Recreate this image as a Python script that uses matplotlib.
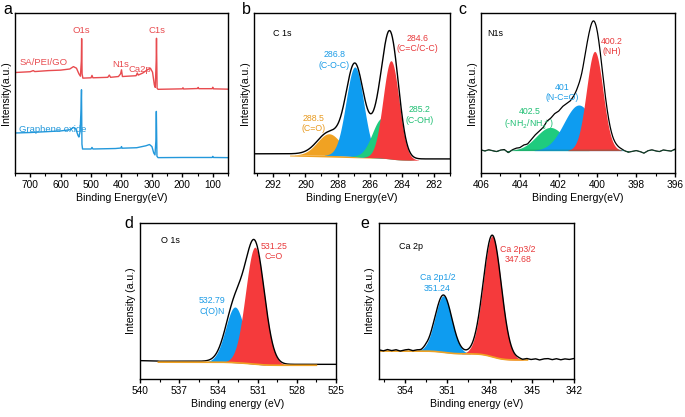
import numpy as np
import matplotlib.pyplot as plt
from matplotlib.ticker import MultipleLocator

plt.rcParams['font.family'] = ['Liberation Sans', 'DejaVu Sans']
plt.rcParams['axes.linewidth'] = 1.0

RED = "#F53A3C"
BLUE = "#0E9CF0"
GREEN = "#1FCB7E"
ORANGE = "#F0A223"
T_RED = "#E8393B"
T_BLUE = "#1B9BE6"
T_GREEN = "#1FBF73"
T_ORANGE = "#E89A1F"

# ---- (a) survey spectra ----
sa_e = [750, 700, 690, 685, 640, 600, 570, 558, 548, 540, 535, 532, 531, 529.5, 527, 500, 497, 494,
        445, 440, 436, 410, 403, 400, 397, 380, 352, 348, 345, 330, 315, 305, 298, 292, 289,
        286, 285, 283, 280, 200, 198, 196, 150, 148, 146, 102, 100, 98, 50]
sa_i = [62.8, 63.3, 64.0, 63.4, 64.0, 64.3, 65.0, 66.5, 65.5, 62.0, 60.5, 70, 84.0, 62, 59.3, 59.5, 61, 59.5,
        59.8, 61.2, 59.8, 60.3, 62, 64.5, 60.3, 60.5, 60.8, 62.5, 61.2, 62.5, 64.5, 65.5, 63, 55, 53.5,
        70, 84.2, 53, 52.3, 52.6, 53.3, 52.5, 52.8, 53.5, 52.7, 52.7, 53.6, 52.6, 52.4]
go_e = [750, 700, 650, 600, 570, 558, 550, 543, 540, 536, 533, 531.5, 530, 528, 500, 497, 494,
        420, 402, 400, 398, 350, 320, 308, 300, 294, 290, 287, 285.5, 283.5, 280, 200, 150,
        102, 100, 98, 50]
go_i = [25.0, 25.3, 25.8, 26.3, 27.0, 28.5, 27.5, 23.5, 22.5, 26, 40, 52.0, 18, 15.0, 15.0, 16.0, 15.0,
        15.3, 15.6, 16.5, 15.5, 15.8, 17.0, 17.8, 16.5, 12.5, 11.3, 20, 38.5, 10.5, 9.6, 9.7, 9.7,
        9.7, 10.4, 9.7, 9.6]

# ---- (b) C 1s fitted components ----
c1s_center = [288.53, 286.92, 285.22, 284.67]
c1s_height = [13.5, 56, 25, 61.5]
c1s_fwhm = [1.7, 1.3, 1.45, 1.17]
c1s_colors = [ORANGE, BLUE, GREEN, RED]
c1s_bg = [11.2, 8.0]          # background at 293.2 and 281 eV

# ---- (c) N 1s fitted components ----
n1s_center = [402.43, 400.96, 400.14]
n1s_height = [14.5, 28.5, 62]
n1s_fwhm = [1.7, 1.8, 1.0]
n1s_colors = [GREEN, BLUE, RED]
n1s_base = 14.0
n1s_noise_e = np.arange(406, 395.9, -0.2)
n1s_noise = [-0.4, -1.0, -0.3, -0.9, -1.4, -0.5, -0.2, -2.2, -0.7, 0.0, -0.3, 0.3, -0.6, 0.2, 0.5, -0.1, -0.7, 0.6,
             0.2, 0.9, 0.4, 1.2, 0.8, 0.1, 0.6, 1.0, 0.4, 1.1, 0.8, 1.4, 1.6, 1.1, 0.7, 0.5, 0.2, 0.1, -0.3,
             -1.2, -1.9, -1.3, -0.8, -1.4, -2.4, -0.9, -0.3, -1.0, -1.4, -0.4, -0.8, -1.1, 0.1]

# ---- (d) O 1s fitted components ----
o1s_center = [532.73, 531.2]
o1s_height = [35.7, 75]
o1s_fwhm = [1.7, 1.7]
o1s_colors = [BLUE, RED]
o1s_bg = [10.8, 8.8]

# ---- (e) Ca 2p fitted components ----
ca_center = [351.27, 347.8]
ca_height = [36.3, 77.5]
ca_fwhm = [1.4, 1.5]
ca_colors = [BLUE, RED]
ca_bg = [17.9, 12.2]
ca_noise_e = np.arange(355.85, 341.9, -0.3)
ca_noise = [0.3, -0.4, 0.5, -0.2, 0.4, -0.5, 0.2, 0.6, -0.3, 0.1, -0.4, 0.3, 0.0, 0.2, 0.0, 0.0, 0.0, 0.0,
            0.0, 0.0, 0.0, 0.0, 0.0, 0.0, 0.0, 0.0, 0.0, 0.0, 0.0, 0.0, 0.0, 0.0, 0.0, 0.2, -0.3, 0.4,
            -0.2, 0.3, -0.5, 0.2, 0.4, -0.3, 0.3, -0.4, 0.2, -0.2, 0.4]


def gauss(x, c, h, w):
    return h * np.exp(-4 * np.log(2) * (x - c) ** 2 / w ** 2)


def shirley(x, comps, hi, lo):
    # x runs from high to low binding energy
    total = np.sum(comps, axis=0)
    cum = np.cumsum(total[::-1])[::-1]
    return lo + (hi - lo) * cum / cum[0]


def style(ax, xlim, major, minor, xlabel, ylabel):
    ax.set_xlim(*xlim)
    ax.set_ylim(0, 100)
    ax.xaxis.set_major_locator(MultipleLocator(major))
    ax.xaxis.set_minor_locator(MultipleLocator(minor))
    ax.set_yticks([])
    ax.tick_params(axis='x', which='major', direction='out', length=3, width=1, labelsize=7.3, pad=2)
    ax.tick_params(axis='x', which='minor', direction='out', length=1.8, width=0.8)
    ax.set_xlabel(xlabel, fontsize=7.6, labelpad=2)
    ax.set_ylabel(ylabel, fontsize=7.6, labelpad=3)


fig = plt.figure(figsize=(6.85, 4.17), dpi=100)
W, H = 685.0, 417.0


def axes_px(x0, y0, x1, y1):
    return fig.add_axes([x0 / W, 1 - y1 / H, (x1 - x0) / W, (y1 - y0) / H])


# (a)
ax = axes_px(15, 13, 228, 173)
ax.plot(sa_e, sa_i, color="#E84B4F", lw=1)
ax.plot(go_e, go_i, color="#2398DB", lw=1)
style(ax, (750, 50), 100, 50, "Binding Energy(eV)", "Intensity(a.u.)")
ax.text(0.02, 0.69, "SA/PEI/GO", color="#E84B4F", fontsize=6.8, transform=ax.transAxes, va='center')
ax.text(0.02, 0.275, "Graphene oxide", color="#2398DB", fontsize=6.8, transform=ax.transAxes, va='center')
ax.text(531, 89, "O1s", color="#E84B4F", fontsize=6.8, ha='center', va='center')
ax.text(284, 89, "C1s", color="#E84B4F", fontsize=6.8, ha='center', va='center')
ax.text(402, 68, "N1s", color="#E84B4F", fontsize=6.8, ha='center', va='center')
ax.text(338, 65, "Ca2p", color="#E84B4F", fontsize=6.8, ha='center', va='center')

# (b)
ax = axes_px(254, 13, 450, 173)
x = np.linspace(293.2, 281, 800)
comps = [gauss(x, c, h, w) for c, h, w in zip(c1s_center, c1s_height, c1s_fwhm)]
bg = shirley(x, comps, *c1s_bg)
chord = np.interp(x, [281, 293.2], c1s_bg[::-1])
band = (bg > chord) & (x < 291) & (x > 283.1)
ax.fill_between(x, chord, bg, where=band, color=ORANGE, lw=0)
for comp, col in zip(comps, c1s_colors):
    mask = comp > 0.15
    ax.fill_between(x, bg, bg + comp, where=mask, color=col, lw=0)
env = bg + np.sum(comps, axis=0)
ax.plot(x, env + 0.8, color='black', lw=1)
style(ax, (293.2, 281), 2, 1, "Binding Energy(eV)", "Intensity(a.u.)")
ax.text(0.095, 0.87, "C 1s", fontsize=6.5, transform=ax.transAxes, va='center')
ax.text(283.0, 81, "284.6\n(C=C/C-C)", color=T_RED, fontsize=6.3, ha='center', va='center', linespacing=1.2)
ax.text(288.2, 70.6, "286.8\n(C-O-C)", color=T_BLUE, fontsize=6.3, ha='center', va='center', linespacing=1.2)
ax.text(289.5, 31, "288.5\n(C=O)", color=T_ORANGE, fontsize=6.3, ha='center', va='center', linespacing=1.2)
ax.text(282.9, 36.2, "285.2\n(C-OH)", color=T_GREEN, fontsize=6.3, ha='center', va='center', linespacing=1.2)

# (c)
ax = axes_px(481, 13, 675, 173)
x = np.linspace(406, 396, 800)
total = np.full_like(x, n1s_base)
for c, h, w, col in zip(n1s_center, n1s_height, n1s_fwhm, n1s_colors):
    comp = gauss(x, c, h, w)
    total += comp
    mask = comp > 0.3
    ax.fill_between(x, n1s_base, n1s_base + comp, where=mask, color=col, lw=0)
raw = total + 0.8 + np.interp(x[::-1], n1s_noise_e[::-1], n1s_noise[::-1])[::-1]
ax.fill_between(x, np.minimum(raw, n1s_base), n1s_base, where=x > 398.4, color=GREEN, lw=0)
ax.plot(x, raw, color='black', lw=0.9)
ax.plot(x, np.minimum(raw, n1s_base + 0.3), color='#1E7F4F', lw=0.6, alpha=0.6)
style(ax, (406, 396), 2, 1, "Binding Energy(eV)", "Intensity(a.u.)")
ax.text(0.03, 0.87, "N1s", fontsize=6.5, transform=ax.transAxes, va='center')
ax.text(399.26, 79, "400.2\n(NH)", color=T_RED, fontsize=6.3, ha='center', va='center', linespacing=1.2)
ax.text(401.8, 50.4, "401\n(N-C=O)", color=T_BLUE, fontsize=6.3, ha='center', va='center', linespacing=1.2)
ax.text(403.5, 33.6, "402.5\n(-NH$_2$/NH$_3^+$)", color=T_GREEN, fontsize=6.3, ha='center', va='center',
        linespacing=1.2)

# (d)
ax = axes_px(140, 223, 336, 379)
x = np.linspace(540, 525, 800)
comps = [gauss(x, c, h, w) for c, h, w in zip(o1s_center, o1s_height, o1s_fwhm)]
bg = shirley(x, comps, *o1s_bg)
for comp, col in zip(comps, o1s_colors):
    mask = comp > 0.2
    ax.fill_between(x, bg, bg + comp, where=mask, color=col, lw=0)
env = bg + np.sum(comps, axis=0) + 0.6
env = np.where(x > 538.6, 11.5 + (x - 538.6) * 0.2, env)
ax.plot(x, env, color='black', lw=1)
m = (x < 538.6) & (x > 526.5)
ax.plot(x[m], bg[m], color=ORANGE, lw=1.2)
style(ax, (540, 525), 3, 1.5, "Binding energy (eV)", "Intensity (a.u.)")
ax.text(0.107, 0.886, "O 1s", fontsize=6.5, transform=ax.transAxes, va='center')
ax.text(529.75, 81.6, "531.25\nC=O", color=T_RED, fontsize=6.3, ha='center', va='center', linespacing=1.2)
ax.text(534.47, 46.9, "532.79\nC(O)N", color=T_BLUE, fontsize=6.3, ha='center', va='center', linespacing=1.2)

# (e)
ax = axes_px(379, 223, 574, 379)
x = np.linspace(355.85, 342, 800)
comps = [gauss(x, c, h, w) for c, h, w in zip(ca_center, ca_height, ca_fwhm)]
bg = shirley(x, comps, *ca_bg)
for comp, col in zip(comps, ca_colors):
    mask = comp > 0.2
    ax.fill_between(x, bg, bg + comp, where=mask, color=col, lw=0)
env = bg + np.sum(comps, axis=0) + 0.5
env = env + np.interp(x[::-1], ca_noise_e[::-1], ca_noise[::-1])[::-1]
m = x > 345.3
ax.plot(x[m], bg[m], color=ORANGE, lw=1.2)
ax.plot(x, env, color='black', lw=1)
style(ax, (355.85, 342), 3, 1.5, "Binding energy (eV)", "Intensity (a.u.)")
ax.text(0.104, 0.848, "Ca 2p", fontsize=6.5, transform=ax.transAxes, va='center')
ax.text(351.7, 61.5, "Ca 2p1/2\n351.24", color=T_BLUE, fontsize=6.3, ha='center', va='center', linespacing=1.2)
ax.text(346.0, 80, "Ca 2p3/2\n347.68", color=T_RED, fontsize=6.3, ha='center', va='center', linespacing=1.2)

# panel letters
for lbl, px, py in [("a", 3, 10), ("b", 242, 10), ("c", 458, 10), ("d", 124, 224), ("e", 360, 224)]:
    fig.text(px / W, 1 - py / H, lbl, fontsize=11.5, va='center', ha='left')

fig.savefig("out.png", dpi=100)
